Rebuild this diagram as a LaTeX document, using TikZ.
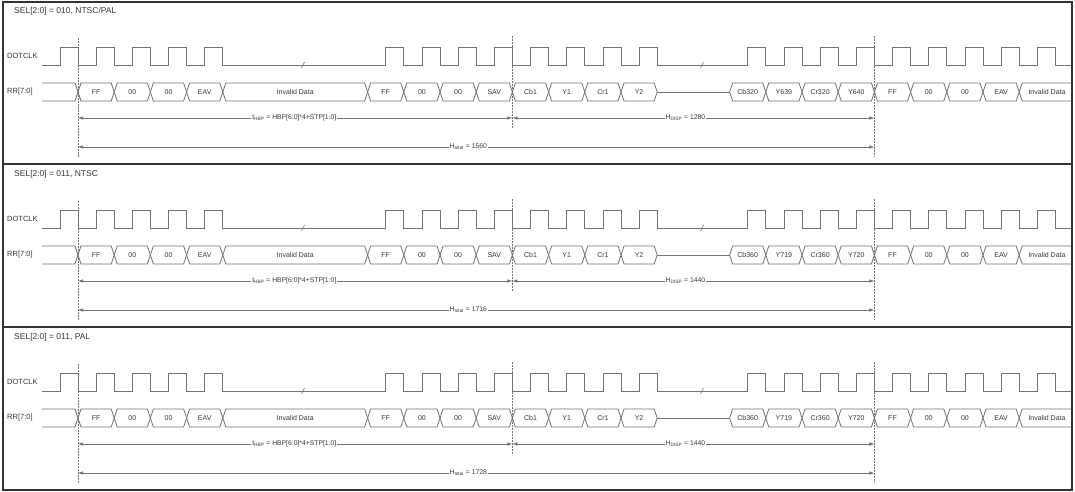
\documentclass[tikz,border=0pt]{standalone}
\usepackage{fontspec}
\setmainfont{Liberation Sans}
\usetikzlibrary{arrows.meta}
\definecolor{wavec}{gray}{0.45}
\definecolor{txtc}{gray}{0.22}
\definecolor{framec}{gray}{0.2}
\tikzset{
  wave/.style={draw=wavec, line width=0.8pt, line join=miter},
  brk/.style={draw=wavec, line width=0.6pt},
  marker/.style={draw=wavec, line width=0.5pt, dash pattern=on 2pt off 1pt},
  dimline/.style={draw=wavec, line width=0.6pt},
  tips/.style={{Latex[length=5pt,width=3.5pt]}-{Latex[length=5pt,width=3.5pt]}},
  buslbl/.style={text=txtc, font=\fontsize{7}{8}\selectfont, inner sep=0pt},
  sig/.style={text=txtc, font=\fontsize{7.5}{8}\selectfont, anchor=west, inner sep=0pt},
  ttl/.style={text=txtc, font=\fontsize{8.5}{9}\selectfont, anchor=west, inner sep=0pt},
  dimlbl/.style={text=txtc, fill=white, font=\fontsize{6.8}{7}\selectfont, inner sep=1pt},
}
% #1 id, #2 y offset, #3 title, #4 cb, #5 ya, #6 cr, #7 yb, #8 disp, #9 total
\newcommand\drawpanel[9]{%
\begin{scope}[shift={(0,#2)}]
  \node[ttl] (title#1) at (14,11) {#3};
  \node[sig] (clk#1) at (7,56) {DOTCLK};
  \node[sig] (rr#1) at (7,92) {RR[7:0]};
  % clock
  \draw[wave] (42,65)
    \foreach \n in {-1,...,3}{ -- ({96.1+36.2*\n},65) -- ({96.1+36.2*\n},47) -- ({114.2+36.2*\n},47) -- ({114.2+36.2*\n},65)}
    \foreach \n in {8,...,15}{ -- ({96.1+36.2*\n},65) -- ({96.1+36.2*\n},47) -- ({114.2+36.2*\n},47) -- ({114.2+36.2*\n},65)}
    \foreach \n in {18,...,26}{ -- ({96.1+36.2*\n},65) -- ({96.1+36.2*\n},47) -- ({114.2+36.2*\n},47) -- ({114.2+36.2*\n},65)}
    -- (1071,65);
  \draw[brk] (301.5,68) -- (304.5,62);
  \draw[brk] (700.5,68) -- (703.5,62);
  % bus
  \draw[wave] (42,83) -- (75,83) -- (78,92) -- (75,101) -- (42,101);
  \foreach \a/\b/\t [count=\k] in {0/1/FF, 1/2/00, 2/3/00, 3/4/EAV, 4/8/Invalid Data,
      8/9/FF, 9/10/00, 10/11/00, 11/12/SAV, 12/13/Cb1, 13/14/Y1, 14/15/Cr1, 15/16/Y2,
      18/19/#4, 19/20/#5, 20/21/#6, 21/22/#7, 22/23/FF, 23/24/00, 24/25/00, 25/26/EAV}{
    \draw[wave] ({78+36.2*\a},92) -- ({81+36.2*\a},83) -- ({75+36.2*\b},83) -- ({78+36.2*\b},92)
      -- ({75+36.2*\b},101) -- ({81+36.2*\a},101) -- cycle;
    \node[buslbl] (d#1-\k) at ({78+18.1*(\a+\b)},92) {\t};
  }
  \draw[wave] (657.2,92) -- (729.6,92);
  \draw[wave] (1071,83) -- (1022.2,83) -- (1019.2,92) -- (1022.2,101) -- (1071,101);
  \node[buslbl] (dlast#1) at (1047,92) {Invalid Data};
  % markers
  \coordinate (mAt#1) at (78,38);   \coordinate (mAb#1) at (78,157);
  \coordinate (mBt#1) at (512.4,36); \coordinate (mBb#1) at (512.4,129);
  \coordinate (mCt#1) at (874.4,36); \coordinate (mCb#1) at (874.4,157);
  \draw[marker] (mAt#1) -- (mAb#1);
  \draw[marker] (mBt#1) -- (mBb#1);
  \draw[marker] (mCt#1) -- (mCb#1);
  \coordinate (L#1) at (78,118); \coordinate (M#1) at (512.4,118); \coordinate (R#1) at (874.4,118);
  \coordinate (LL#1) at (78,147); \coordinate (RR#1) at (874.4,147);
  \draw[dimline, tips] (L#1) -- node[dimlbl, pos=0.498] (thbp#1) {t\textsubscript{HBP} = HBP[6:0]*4+STP[1:0]} (M#1);
  \draw[dimline, tips] (M#1) -- node[dimlbl, pos=0.478] (hdisp#1) {H\textsubscript{DISP} = #8} (R#1);
  \draw[dimline, tips] (LL#1) -- node[dimlbl, pos=0.49] (htot#1) {H\textsubscript{total} = #9} (RR#1);
\end{scope}}
\begin{document}
\begin{tikzpicture}[x=1pt, y=-1pt]
  \useasboundingbox (0,0) rectangle (1075,492);
  \fill[white] (0,0) rectangle (1075,492);
  \drawpanel{1}{0}{SEL[2:0] = 010, NTSC/PAL}{Cb320}{Y639}{Cr320}{Y640}{1280}{1560}
  \drawpanel{2}{163}{SEL[2:0] = 011, NTSC}{Cb360}{Y719}{Cr360}{Y720}{1440}{1716}
  \drawpanel{3}{326}{SEL[2:0] = 011, PAL}{Cb360}{Y719}{Cr360}{Y720}{1440}{1728}
  \draw[framec, line width=2pt] (3,2) rectangle (1072,490);
  \draw[framec, line width=2pt] (3,164) -- (1072,164);
  \draw[framec, line width=2pt] (3,327) -- (1072,327);
\end{tikzpicture}
\end{document}
